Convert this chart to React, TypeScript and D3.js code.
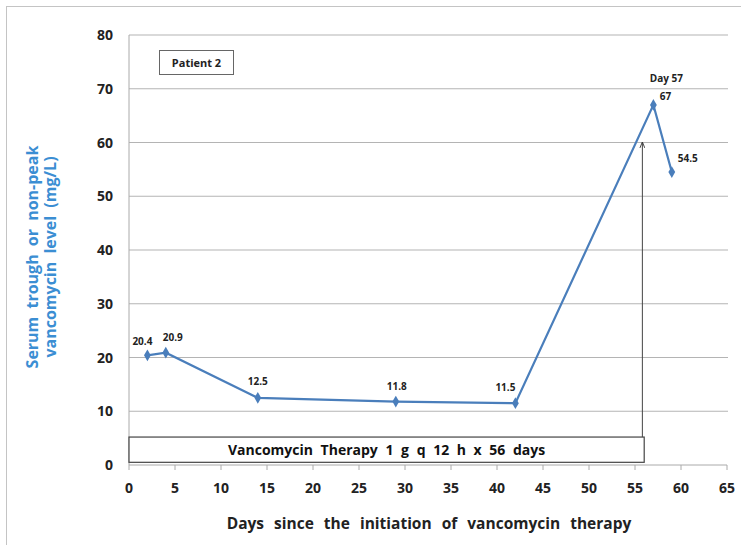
import * as d3 from "d3";

// data
const days = [2, 4, 14, 29, 42, 57, 59];
const levels = [20.4, 20.9, 12.5, 11.8, 11.5, 67, 54.5];
const pointLabels = ["20.4", "20.9", "12.5", "11.8", "11.5", "67", "54.5"];
// label nudges (px) relative to the point, like the hand-dragged labels in the original
const labelDx = [-5, 7, 0, 1, -10, 12, 16];
const labelDy = [-10, -12, -13, -12, -12, -5, -10];

const xTicks = d3.range(0, 66, 5);
const yTicks = d3.range(0, 81, 10);

const therapyDays = [0, 56];
const therapyText = "Vancomycin Therapy 1 g q 12 h x 56 days";
const arrowDay = 55.8;
const arrowLevel = 60;

const W = 741;
const H = 545;
const font = "'Open Sans', 'DejaVu Sans', sans-serif";
const blue = "#4a7ebb";

export default function App() {
  const x = d3.scaleLinear().domain([0, 65]).range([129, 727]);
  const y = d3.scaleLinear().domain([0, 80]).range([465, 35]);

  const pts = days.map((d, i) => [x(d), y(levels[i])] as [number, number]);
  const line = d3.line()(pts) || "";
  const diamond = d3.symbol().type(d3.symbolDiamond).size(40)() || "";

  const boxTop = y(5.2);
  const boxBot = y(0.5);

  return (
    <svg width={W} height={H} style={{ position: "absolute", left: 0, top: 0 }}>
      <defs>
        <marker id="ah" viewBox="0 0 10 10" refX="9" refY="5" markerWidth="6" markerHeight="6" orient="auto">
          <path d="M0,1 L10,5 L0,9" fill="none" stroke="#333" strokeWidth="1.5" />
        </marker>
      </defs>
      <rect x={0} y={0} width={W} height={H} fill="white" />
      <rect x={6.5} y={6.5} width={800} height={600} fill="none" stroke="#c4c4c4" />

      {/* grid */}
      {yTicks.filter(t => t > 0).map(t => (
        <line key={t} x1={x(0)} x2={728} y1={y(t)} y2={y(t)} stroke="#b4b4b4" strokeWidth={1.2} />
      ))}
      {/* axes */}
      <line x1={x(0)} x2={x(0)} y1={y(80)} y2={y(0)} stroke="#aaa" />
      <line x1={x(0)} x2={x(65)} y1={y(0)} y2={y(0)} stroke="#aaa" />
      {xTicks.map(t => (
        <g key={t}>
          <line x1={x(t)} x2={x(t)} y1={y(0)} y2={y(0) + 5} stroke="#aaa" />
          <text x={x(t)} y={493} textAnchor="middle" fontFamily={font} fontWeight="bold" fontSize={14} fill="#222">{t}</text>
        </g>
      ))}
      {yTicks.map(t => (
        <text key={t} x={113} y={y(t) + 5} textAnchor="end" fontFamily={font} fontWeight="bold" fontSize={14} fill="#222">{t}</text>
      ))}

      {/* therapy box and arrow */}
      <rect x={x(therapyDays[0])} y={boxTop} width={x(therapyDays[1]) - x(therapyDays[0])} height={boxBot - boxTop} fill="white" stroke="#444" strokeWidth={1.2} />
      <text x={(x(therapyDays[0]) + x(therapyDays[1])) / 2} y={boxTop + 18} textAnchor="middle" fontFamily={font} fontWeight="bold" fontSize={14} fill="#111" wordSpacing="4">{therapyText}</text>
      <line x1={x(arrowDay)} x2={x(arrowDay)} y1={boxTop} y2={y(arrowLevel)} stroke="#444" strokeWidth={1} markerEnd="url(#ah)" />

      {/* series */}
      <path d={line} fill="none" stroke={blue} strokeWidth={2.2} />
      {pts.map((p, i) => (
        <path key={i} d={diamond} transform={`translate(${p[0]},${p[1]})`} fill={blue} />
      ))}
      {pts.map((p, i) => (
        <text key={i} x={p[0] + labelDx[i]} y={p[1] + labelDy[i]} textAnchor="middle" fontFamily={font} fontWeight="bold" fontSize={10} fill="#222">{pointLabels[i]}</text>
      ))}
      <text x={pts[5][0] + 13} y={pts[5][1] - 23} textAnchor="middle" fontFamily={font} fontWeight="bold" fontSize={10} fill="#222">Day 57</text>

      {/* patient box */}
      <rect x={159.5} y={50.5} width={74} height={24} fill="white" stroke="#666" />
      <text x={196.5} y={67} textAnchor="middle" fontFamily={font} fontWeight="bold" fontSize={11} fill="#222">Patient 2</text>

      {/* titles */}
      <text x={429} y={529} textAnchor="middle" fontFamily={font} fontWeight="bold" fontSize={15.5} fill="#222" wordSpacing="6">Days since the initiation of vancomycin therapy</text>
      <g transform="translate(38,257) rotate(-90)">
        <text x={0} y={0} textAnchor="middle" fontFamily={font} fontWeight="bold" fontSize={16} fill="#3b8ed3" wordSpacing="4">Serum trough or non-peak</text>
        <text x={0} y={18} textAnchor="middle" fontFamily={font} fontWeight="bold" fontSize={16} fill="#3b8ed3" wordSpacing="4">vancomycin level (mg/L)</text>
      </g>
    </svg>
  );
}
